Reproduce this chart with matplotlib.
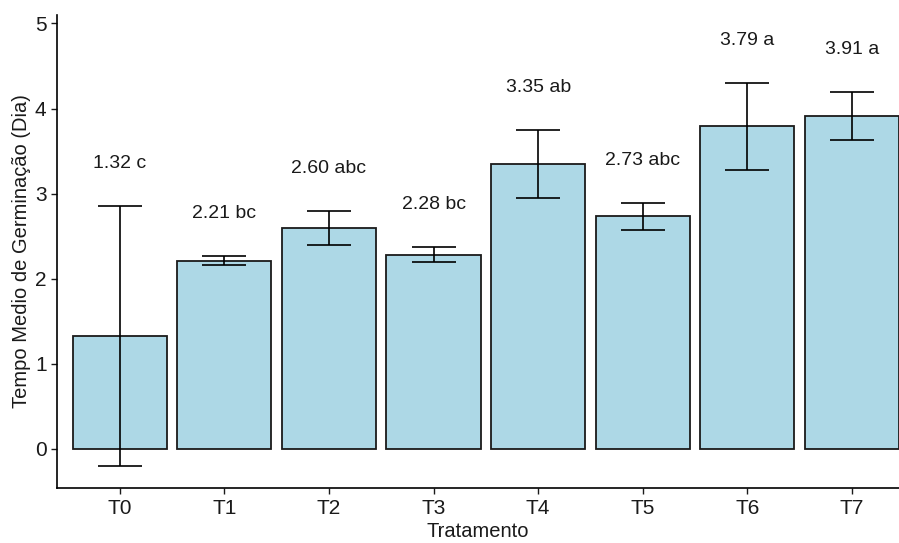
import matplotlib

matplotlib.use("Agg")
import matplotlib.pyplot as plt
import numpy as np

plt.rcParams["font.family"] = ["Liberation Sans", "DejaVu Sans"]

# Mean germination time per treatment, standard deviation and Tukey letters
tratamentos = ["T0", "T1", "T2", "T3", "T4", "T5", "T6", "T7"]
medias = [1.32, 2.21, 2.60, 2.28, 3.35, 2.73, 3.79, 3.91]
desvios = [1.53, 0.05, 0.20, 0.09, 0.40, 0.16, 0.51, 0.28]
letras = ["c", "bc", "abc", "bc", "ab", "abc", "a", "a"]

x = np.arange(1, len(tratamentos) + 1)
medias = np.array(medias)
desvios = np.array(desvios)

fig = plt.figure(figsize=(8.99, 5.43), dpi=100)
ax = fig.add_axes([0.0634, 0.1018, 0.9366, 0.8706])

ax.bar(x, medias, width=0.9, color="#ADD8E6", edgecolor="#1a1a1a", linewidth=1.3, zorder=2)
ax.errorbar(x, medias, yerr=desvios, fmt="none", ecolor="black", elinewidth=1.2,
            capsize=15.5, capthick=1.2, zorder=3)

for xi, m, s, l in zip(x, medias, desvios, letras):
    ax.text(xi, m + s + 0.5, f"{m:.2f} {l}", ha="center", va="center",
            fontsize=14, color="#1a1a1a")

ax.set_xlim(0.4, 8.45)
ax.set_ylim(-0.46, 5.10)
ax.set_xticks(x)
ax.set_xticklabels(tratamentos)
ax.set_yticks(range(6))
ax.tick_params(labelsize=15, colors="#1a1a1a", length=4, width=1)
ax.tick_params(axis="x", pad=4)
ax.spines[["top", "right"]].set_visible(False)
for s in ["left", "bottom"]:
    ax.spines[s].set_linewidth(1.2)

ax.set_xlabel("Tratamento", fontsize=14.5, color="#1a1a1a", labelpad=3)
ax.set_ylabel("Tempo Medio de Germinação (Dia)", fontsize=14.5, color="#1a1a1a", labelpad=3)

fig.savefig("out.png", dpi=100)
